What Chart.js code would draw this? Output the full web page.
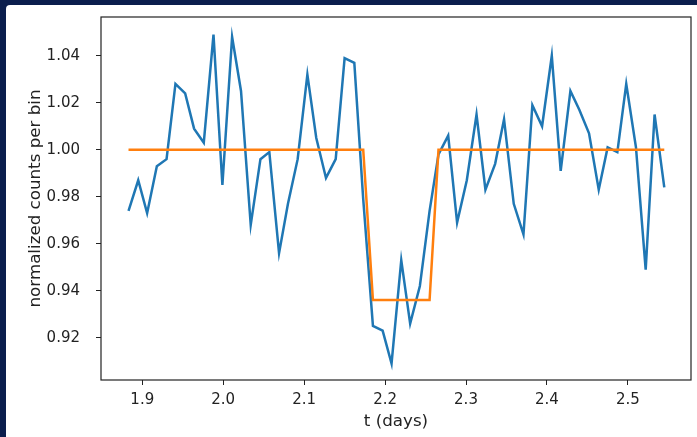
<!DOCTYPE html>
<html>
<head>
<meta charset="utf-8">
<script src="https://cdn.jsdelivr.net/npm/chart.js@4.4.0/dist/chart.umd.min.js"></script>
<style>
  html, body { margin: 0; padding: 0; }
  body { width: 697px; height: 437px; background: #0b1e4d; overflow: hidden; position: relative; }
  #panel { position: absolute; left: 6px; top: 5px; width: 691px; height: 432px; background: #fff; border-top-left-radius: 4px; }
</style>
</head>
<body>
<div id="panel"><canvas id="canvas1" width="691" height="432"></canvas></div>
<script>
// Tiempos de cada bin (dias)
const tiempos = [
  1.883, 1.895, 1.906, 1.918, 1.930, 1.941, 1.953, 1.964, 1.976, 1.988,
  1.999, 2.011, 2.022, 2.034, 2.046, 2.057, 2.069, 2.080, 2.092, 2.104,
  2.115, 2.127, 2.139, 2.150, 2.162, 2.173, 2.185, 2.197, 2.208, 2.220,
  2.231, 2.243, 2.255, 2.266, 2.278, 2.289, 2.301, 2.313, 2.324, 2.336,
  2.347, 2.359, 2.371, 2.382, 2.394, 2.406, 2.417, 2.429, 2.440, 2.452,
  2.464, 2.475, 2.487, 2.498, 2.510, 2.522, 2.533, 2.545
];

// Cuentas normalizadas por bin
const cuentas = [
  0.974, 0.987, 0.973, 0.993, 0.996, 1.028, 1.024, 1.009, 1.003, 1.049,
  0.985, 1.048, 1.025, 0.968, 0.996, 0.999, 0.956, 0.977, 0.996, 1.032,
  1.005, 0.988, 0.996, 1.039, 1.037, 0.979, 0.925, 0.923, 0.909, 0.953,
  0.926, 0.942, 0.974, 0.998, 1.006, 0.969, 0.987, 1.015, 0.983, 0.994,
  1.013, 0.977, 0.964, 1.019, 1.010, 1.040, 0.991, 1.025, 1.017, 1.007,
  0.983, 1.001, 0.999, 1.028, 1.001, 0.949, 1.015, 0.984
];

// Modelo del transito (caja)
const modelo = [
  1.000, 1.000, 1.000, 1.000, 1.000, 1.000, 1.000, 1.000, 1.000, 1.000,
  1.000, 1.000, 1.000, 1.000, 1.000, 1.000, 1.000, 1.000, 1.000, 1.000,
  1.000, 1.000, 1.000, 1.000, 1.000, 1.000, 0.936, 0.936, 0.936, 0.936,
  0.936, 0.936, 0.936, 1.000, 1.000, 1.000, 1.000, 1.000, 1.000, 1.000,
  1.000, 1.000, 1.000, 1.000, 1.000, 1.000, 1.000, 1.000, 1.000, 1.000,
  1.000, 1.000, 1.000, 1.000, 1.000, 1.000, 1.000, 1.000
];

const ticksX = [1.9, 2.0, 2.1, 2.2, 2.3, 2.4, 2.5];
const ticksY = [0.92, 0.94, 0.96, 0.98, 1.00, 1.02, 1.04];

const $ = (id) => document.getElementById(id);

Chart.defaults.font.family = "'DejaVu Sans', sans-serif";
Chart.defaults.color = '#222';

// Marco negro alrededor del area de la grafica
const marco = {
  id: 'marco',
  afterDatasetsDraw(chart) {
    const { ctx, chartArea: a } = chart;
    ctx.save();
    ctx.strokeStyle = '#222';
    ctx.lineWidth = 1.2;
    ctx.strokeRect(a.left, a.top, a.right - a.left, a.bottom - a.top);
    ctx.restore();
  }
};

const config = {
  type: 'line',
  data: {
    datasets: [{
      label: 'datos',
      data: tiempos.map((t, i) => ({ x: t, y: cuentas[i] })),
      borderColor: '#1f77b4',
      borderWidth: 2.5,
      pointRadius: 0,
      tension: 0,
      fill: false,
      order: 1
    }, {
      label: 'modelo',
      data: tiempos.map((t, i) => ({ x: t, y: modelo[i] })),
      borderColor: '#ff7f0e',
      borderWidth: 2.5,
      pointRadius: 0,
      tension: 0,
      fill: false,
      order: 0
    }]
  },
  options: {
    responsive: false,
    animation: false,
    layout: { padding: { top: 12, right: 6, left: 0, bottom: 0 } },
    plugins: {
      legend: { display: false },
      tooltip: { enabled: false }
    },
    scales: {
      x: {
        type: 'linear',
        min: 1.849,
        max: 2.578,
        afterBuildTicks: (scale) => { scale.ticks = ticksX.map(v => ({ value: v })) },
        afterFit: (scale) => {
          scale.height = 57;
          scale.paddingLeft = 0;
          scale.paddingRight = 0;
        },
        grid: { drawOnChartArea: false, tickLength: 5, color: '#222' },
        border: { display: false },
        ticks: {
          padding: 6,
          maxRotation: 0,
          font: { size: 15 },
          callback: (v) => v.toFixed(1)
        },
        title: {
          display: true,
          text: 't (days)',
          font: { size: 16.7 },
          padding: { top: 0, bottom: 5 }
        }
      },
      y: {
        min: 0.902,
        max: 1.0565,
        afterBuildTicks: (scale) => { scale.ticks = ticksY.map(v => ({ value: v })) },
        afterFit: (scale) => {
          scale.width = 95;
          scale.paddingTop = 0;
          scale.paddingBottom = 0;
        },
        grid: { drawOnChartArea: false, tickLength: 5, color: '#222' },
        border: { display: false },
        ticks: {
          padding: 16,
          font: { size: 15 },
          callback: (v) => v.toFixed(2)
        },
        title: {
          display: true,
          text: 'normalized counts per bin',
          font: { size: 16.7 },
          padding: { top: 20, bottom: 0 }
        }
      }
    }
  },
  plugins: [marco]
};

new Chart($('canvas1'), config);
</script>
</body>
</html>
